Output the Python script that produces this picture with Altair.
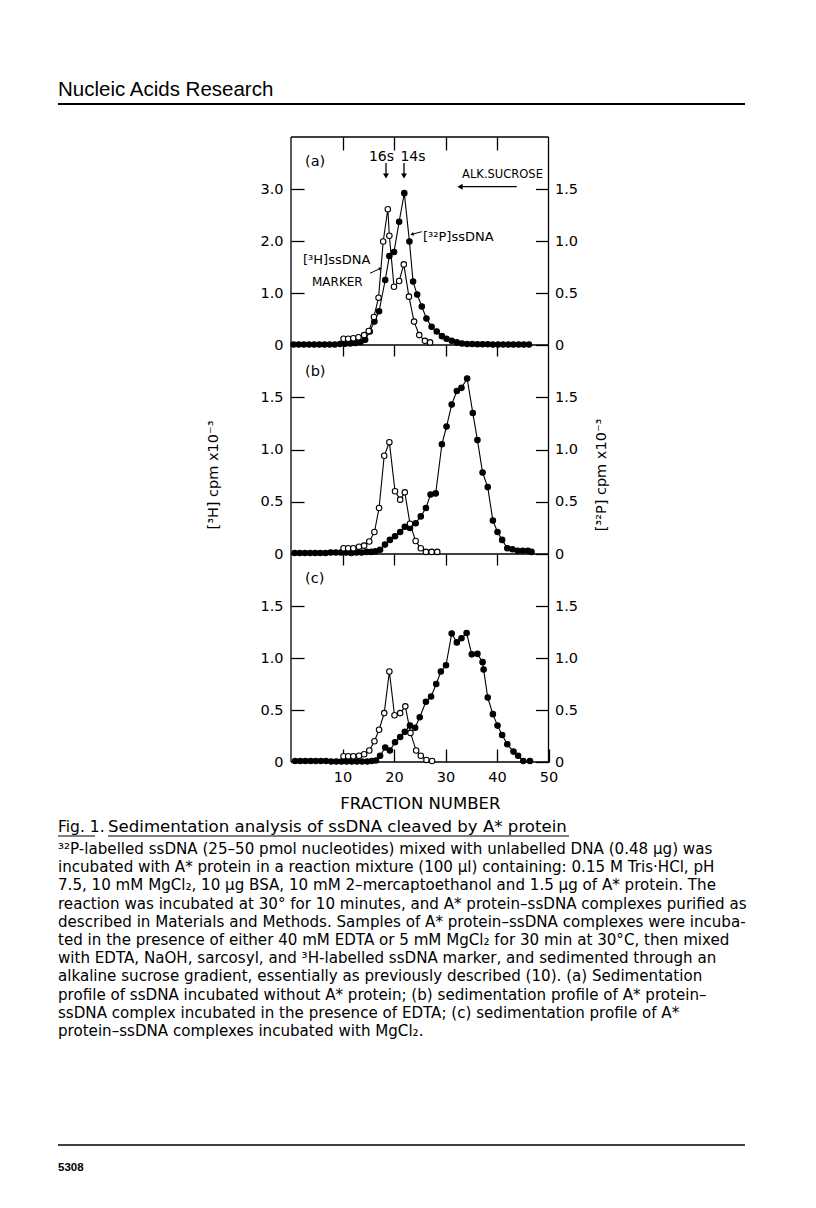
import altair as alt
import pandas as pd

# ----------------- data -----------------
# fraction number (x) and cpm x10^-3 (y); 3H = open circles (left axis), 32P = filled circles (right axis)
a_h3_fraction = [10.2, 11.1, 12.1, 13.1, 14.2, 15.1, 16.1, 17.0, 17.9, 18.8, 19.1, 20.0, 21.0, 21.9, 22.9, 23.9, 24.9, 26.0, 27.0]
a_h3_cpm = [0.12, 0.12, 0.13, 0.15, 0.19, 0.27, 0.54, 0.91, 1.99, 2.61, 2.10, 1.12, 1.23, 1.55, 0.93, 0.45, 0.19, 0.08, 0.05]
a_p32_fraction = [0.5, 1.5, 2.5, 3.5, 4.5, 5.5, 6.5, 7.5, 8.5, 9.5, 10.5, 11.5, 12.5, 13.5,
                  14.4, 15.3, 16.2, 17.1, 18.3, 19.1, 20.0, 21.0, 22.0, 23.0, 23.7, 24.5, 25.4, 26.3, 27.3, 28.3, 29.3, 30.2, 31.2,
                  32.2, 33.2, 34.2, 35.2, 36.2, 37.2, 38.2, 39.2, 40.2, 41.2, 42.2, 43.2, 44.2, 45.2, 46.2]
a_p32_cpm = [0.005, 0.005, 0.005, 0.005, 0.005, 0.005, 0.005, 0.005, 0.005, 0.01, 0.012, 0.015, 0.02, 0.03,
             0.05, 0.13, 0.225, 0.325, 0.625, 0.855, 0.895, 1.185, 1.46, 0.995, 0.61, 0.485, 0.37, 0.255, 0.175, 0.13, 0.085, 0.06, 0.04,
             0.025, 0.015, 0.01, 0.01, 0.008, 0.008, 0.008, 0.005, 0.005, 0.005, 0.005, 0.005, 0.005, 0.005, 0.005]

b_h3_fraction = [10.2, 11.1, 12.1, 13.2, 14.2, 15.2, 16.2, 17.1, 18.1, 19.1, 20.2, 21.2, 22.1, 23.1, 24.2, 25.2, 26.2, 27.3, 28.4]
b_h3_cpm = [0.055, 0.055, 0.055, 0.07, 0.08, 0.12, 0.21, 0.44, 0.94, 1.07, 0.60, 0.52, 0.59, 0.29, 0.125, 0.055, 0.02, 0.02, 0.02]
b_p32_fraction = [0.7, 1.7, 2.7, 3.7, 4.7, 5.7, 6.7, 7.7, 8.7, 9.7, 10.7, 11.7, 12.7, 13.7, 14.7,
                  15.6, 16.4, 17.3, 18.25, 19.2, 20.2, 21.2, 22.1, 23.1, 24.2, 25.2, 26.2, 27.1, 28.1, 29.3, 30.2, 31.2, 32.2,
                  33.1, 34.2, 35.3, 36.2, 37.2, 38.2, 39.2, 40.1, 41.0, 42.0, 43.0, 44.0, 45.0, 46.0, 46.7]
b_p32_cpm = [0.01, 0.01, 0.01, 0.01, 0.01, 0.01, 0.01, 0.015, 0.015, 0.015, 0.015, 0.01, 0.015, 0.015, 0.02,
             0.02, 0.025, 0.04, 0.09, 0.135, 0.17, 0.21, 0.26, 0.25, 0.295, 0.36, 0.44, 0.57, 0.58, 1.05, 1.22, 1.43, 1.56,
             1.59, 1.68, 1.35, 1.09, 0.78, 0.64, 0.32, 0.21, 0.135, 0.055, 0.045, 0.03, 0.03, 0.03, 0.02]

c_h3_fraction = [10.2, 11.1, 12.1, 13.2, 14.2, 15.2, 16.2, 17.1, 18.1, 19.1, 20.1, 21.2, 22.2, 23.2, 24.3, 25.2, 26.3, 27.4]
c_h3_cpm = [0.055, 0.055, 0.055, 0.06, 0.074, 0.11, 0.20, 0.31, 0.47, 0.87, 0.45, 0.47, 0.535, 0.28, 0.11, 0.06, 0.02, 0.01]
c_p32_fraction = [0.8, 1.8, 2.8, 3.8, 4.8, 5.8, 6.8, 7.8, 8.8, 9.8, 10.8, 11.8, 12.8, 13.8, 14.8,
                  15.7, 16.5, 17.3, 18.3, 19.2, 20.2, 21.2, 22.1, 23.1, 24.1, 25.0, 26.2, 27.2, 28.2, 29.1, 30.1, 31.2, 32.2,
                  33.1, 34.1, 35.1, 36.2, 37.2, 37.4, 38.2, 39.2, 40.1, 41.0, 42.0, 43.2, 44.1, 45.1, 46.4]
c_p32_cpm = [0.01, 0.01, 0.01, 0.01, 0.01, 0.01, 0.01, 0.005, 0.005, 0.005, 0.005, 0.005, 0.005, 0.005, 0.005,
             0.01, 0.015, 0.06, 0.14, 0.11, 0.19, 0.24, 0.29, 0.35, 0.33, 0.43, 0.58, 0.63, 0.75, 0.87, 0.93, 1.235, 1.15,
             1.19, 1.24, 1.035, 1.04, 0.96, 0.89, 0.62, 0.46, 0.35, 0.26, 0.17, 0.10, 0.06, 0.01, 0.01]

ticks_fraction = [10, 20, 30, 40]
labels_fraction = [10, 20, 30, 40, 50]
ticks_a_h3 = [0, 1, 2, 3]
ticks_half = [0, 0.5, 1.0, 1.5]

header_text = "Nucleic Acids Research"
caption_fig = "Fig. 1."
caption_title = "Sedimentation analysis of ssDNA cleaved by A* protein"
caption_lines = [
    "³²P-labelled ssDNA (25–50 pmol nucleotides) mixed with unlabelled DNA (0.48 µg) was",
    "incubated with A* protein in a reaction mixture (100 µl) containing: 0.15 M Tris·HCl, pH",
    "7.5, 10 mM MgCl₂, 10 µg BSA, 10 mM 2–mercaptoethanol and 1.5 µg of A* protein.  The",
    "reaction was incubated at 30° for 10 minutes, and A* protein–ssDNA complexes purified as",
    "described in Materials and Methods.  Samples of A* protein–ssDNA complexes were incuba-",
    "ted in the presence of either 40 mM EDTA or 5 mM MgCl₂ for 30 min at 30°C, then mixed",
    "with EDTA, NaOH, sarcosyl, and ³H-labelled ssDNA marker, and sedimented through an",
    "alkaline sucrose gradient, essentially as previously described (10).   (a) Sedimentation",
    "profile of ssDNA incubated without A* protein; (b) sedimentation profile of A* protein–",
    "ssDNA complex incubated in the presence of EDTA; (c) sedimentation profile of A*",
    "protein–ssDNA complexes incubated with MgCl₂.",
]
page_number = "5308"

# ----------------- layout (pixels inside the 800x1192 canvas) -----------------
W, H = 800, 1192
X0, X1 = 283, 540.5
YA_T, YA_B, YB_B, YC_B = 129, 337, 546, 754
TICK = 13
FONT = "DejaVu Sans"
CAPFONT = "DejaVu Sans"
LBL = "datum.value == 0 ? '0' : format(datum.value, '.1f')"

one = pd.DataFrame({"k": [0]})


def xscale():
    return alt.Scale(domain=[0, 50], range=[X0, X1], nice=False, zero=False)


def yscale(dom, bot, top):
    return alt.Scale(domain=dom, range=[bot, top], nice=False, zero=False)


axis_common = dict(grid=False, domain=False, labelFont=FONT, labelFontSize=14.5, labelColor="black",
                   tickColor="black", tickWidth=1.3, labelOverlap=False, labelFlush=False, title=None)


def left_axis(values):
    return alt.Axis(orient="left", values=values, labelExpr=LBL, offset=-(X0 + TICK), tickSize=TICK,
                    labelPadding=8, **axis_common)


def right_axis(values):
    return alt.Axis(orient="right", values=values, labelExpr=LBL, offset=(X1 - TICK) - W, tickSize=TICK,
                    labelPadding=6, **axis_common)


def top_ticks(edge, size):
    return alt.Axis(orient="top", values=ticks_fraction, labels=False, offset=-(edge + size), tickSize=size,
                    **axis_common)


def series(frac, vals, ydom, ybot, ytop, is_open, yaxis, xaxis):
    df = pd.DataFrame({"fraction": frac, "cpm": vals})
    pt = alt.OverlayMarkDef(shape="circle", size=30, filled=True,
                            fill="white" if is_open else "black", stroke="black", strokeWidth=1.1, opacity=1)
    return alt.Chart(df).mark_line(color="black", strokeWidth=1.1, point=pt).encode(
        x=alt.X("fraction:Q", scale=xscale(), axis=xaxis),
        y=alt.Y("cpm:Q", scale=yscale(ydom, ybot, ytop), axis=yaxis),
    )


def rule(**enc):
    sw = enc.pop("sw", 1.3)
    return alt.Chart(one).mark_rule(color="black", strokeWidth=sw).encode(**{k: alt.value(v) for k, v in enc.items()})


def label(text, x, y, size=14, align="left", angle=0, font=FONT, baseline="middle", weight="normal"):
    kw = dict(align=align, baseline=baseline, font=font, fontSize=size, color="black", fontWeight=weight)
    if angle:
        kw["angle"] = angle
    return alt.Chart(pd.DataFrame({"t": [text]})).mark_text(**kw).encode(
        text="t:N", x=alt.value(x), y=alt.value(y))


def head(shape, x, y, size=30, angle=0):
    kw = dict(shape=shape, filled=True, color="black", size=size, opacity=1)
    if angle:
        kw["angle"] = angle
    return alt.Chart(one).mark_point(**kw).encode(x=alt.value(x), y=alt.value(y))


layers = []

# frame
layers += [
    rule(x=X0, y=YA_T, y2=YC_B),
    rule(x=X1, y=YA_T, y2=YC_B),
    rule(y=YA_T, x=X0, x2=X1),
    rule(y=YA_B, x=X0, x2=X1),
    rule(y=YB_B, x=X0, x2=X1),
    rule(y=YC_B, x=X0, x2=X1),
]

# panel (a)
layers.append(series(a_p32_fraction, a_p32_cpm, [0, 2], YA_B, YA_T, False, right_axis(ticks_half), None))
layers.append(series(a_h3_fraction, a_h3_cpm, [0, 4], YA_B, YA_T, True, left_axis(ticks_a_h3), top_ticks(YA_T, TICK)))
# panel (b)
layers.append(series(b_p32_fraction, b_p32_cpm, [0, 2], YB_B, YA_B, False, right_axis(ticks_half), None))
layers.append(series(b_h3_fraction, b_h3_cpm, [0, 2], YB_B, YA_B, True, left_axis(ticks_half), top_ticks(YA_B, 11)))
# panel (c)
bottom_axis = alt.Axis(orient="bottom", values=labels_fraction, offset=(YC_B - TICK) - H, tickSize=TICK, labelPadding=8,
                       grid=False, domain=False, labelFont=FONT, labelFontSize=14.5, labelColor="black",
                       tickColor="black", tickWidth=1.3, labelOverlap=False, labelFlush=False,
                       title="FRACTION NUMBER", titleFont=FONT, titleFontSize=16.5, titleFontWeight="normal",
                       titleColor="black", titlePadding=12)
layers.append(series(c_p32_fraction, c_p32_cpm, [0, 2], YC_B, YB_B, False, right_axis(ticks_half), bottom_axis))
layers.append(series(c_h3_fraction, c_h3_cpm, [0, 2], YC_B, YB_B, True, left_axis(ticks_half), top_ticks(YB_B, 11)))

# panel annotations
layers += [
    label("(a)", 297, 154, size=14.5), label("(b)", 297, 364, size=14.5), label("(c)", 297, 571, size=14.5),
    label("16s", 373.5, 149, size=14, align="center"), label("14s", 405, 149, size=14, align="center"),
    rule(x=378, y=155, y2=168), head("triangle-down", 378, 168, 36),
    rule(x=396, y=155, y2=168), head("triangle-down", 396, 168, 36),
    label("ALK.SUCROSE", 494.5, 167, size=11.5, align="center"),
    rule(y=178.7, x=452, x2=508.7, sw=1.2), head("triangle-left", 452, 178.7, 36),
    label("[³²P]ssDNA", 415, 229, size=13),
    rule(x=413.7, y=223.7, x2=405, y2=226, sw=1), head("triangle-left", 404, 226.3, 14, angle=346),
    label("[³H]ssDNA", 295, 252, size=13),
    label("MARKER", 304, 274, size=12),
    rule(x=362, y=265.3, x2=371, y2=261, sw=1), head("triangle-right", 372.5, 260.4, 14, angle=335),
    label("[³H] cpm x10⁻³", 206, 467, size=14.5, align="center", angle=270),
    label("[³²P] cpm x10⁻³", 594, 467, size=14.5, align="center", angle=270),
]

# page header
layers += [
    label(header_text, 50, 88, size=20.5, font="Liberation Sans", baseline="alphabetic"),
    rule(y=96, x=50, x2=737, sw=2.2),
]

# caption
layers += [
    label(caption_fig, 50, 824, size=15.5, font=CAPFONT, baseline="alphabetic"),
    label(caption_title, 100, 824, size=16.6, font=CAPFONT, baseline="alphabetic"),
    rule(y=828, x=50, x2=87, sw=1.2),
    rule(y=828, x=100, x2=561, sw=1.2),
]
cap_df = pd.DataFrame({"line": list(range(len(caption_lines))), "t": caption_lines})
layers.append(
    alt.Chart(cap_df).mark_text(align="left", baseline="alphabetic", font=CAPFONT, fontSize=15.1, color="black").encode(
        x=alt.value(50),
        y=alt.Y("line:Q", scale=alt.Scale(domain=[0, 10], range=[846, 1028], nice=False, zero=False), axis=None),
        text="t:N",
    )
)

# footer
layers += [
    rule(y=1137, x=50, x2=737, sw=1.5),
    label(page_number, 50, 1160, size=11.5, font="Liberation Sans", weight="bold"),
]

chart = alt.layer(*layers).resolve_scale(x="independent", y="independent").properties(
    width=W, height=H, autosize=alt.AutoSizeParams(type="none"), padding=0
).configure_view(strokeWidth=0, stroke="transparent").configure(
    background="white", style={"cell": {"stroke": "transparent", "strokeWidth": 0}}
)

chart.save("out.html", embed_options={"renderer": "svg", "actions": False})
